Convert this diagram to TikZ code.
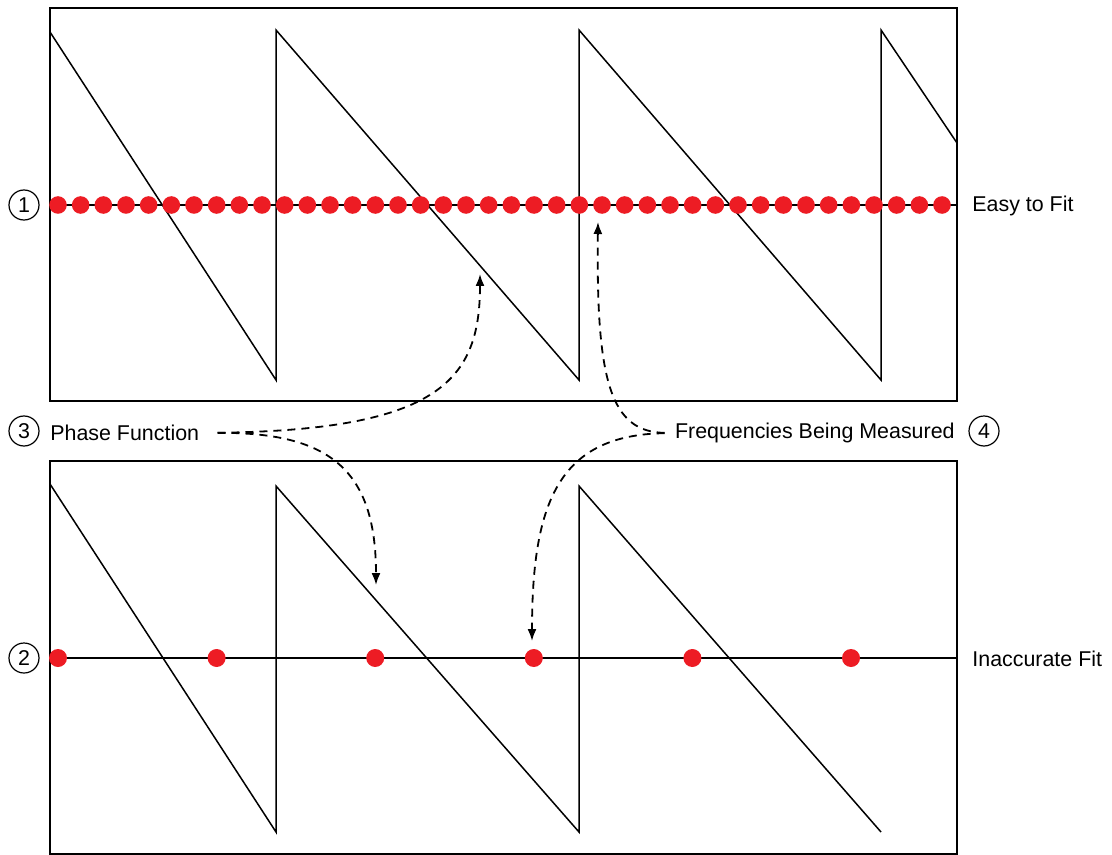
\documentclass[tikz,border=0pt]{standalone}
\usepackage{fontspec}
\setmainfont{Liberation Sans}
\usetikzlibrary{arrows.meta}
\definecolor{dotred}{RGB}{237,28,36}
\tikzset{
  frame/.style={line width=1pt},
  saw/.style={line width=0.75pt},
  sample/.style={fill=dotred},
  num/.style={circle,draw,line width=0.6pt,minimum size=15pt,inner sep=0pt},
  lbl/.style={anchor=west,inner sep=0pt},
  hint/.style={dash pattern=on 4pt off 3pt,line width=0.9pt,-{Latex[length=6pt,width=4.5pt]}}
}
\begin{document}
\begin{tikzpicture}[x=0.5pt,y=-0.5pt,every node/.style={font=\fontsize{10.7}{13}\selectfont}]
    \useasboundingbox (0,0) rectangle (1112,855);

    % Riquadri
    \draw[frame] (50,8) rectangle (957,401);
    \draw[frame] (50,461) rectangle (957,854);

    % Dente di sega sopra
    \draw[saw] (50,32) -- (276,380) -- (276,30) -- (579,380) -- (579,30)
        -- (881,380) -- (881,30) -- (957,143);

    % Dente di sega sotto
    \draw[saw] (50,484) -- (276,832) -- (276,486) -- (579,832) -- (579,486)
        -- (881,832);

    % Campionamento fitto
    \draw[saw] (50,205) -- (957,205);
    \foreach \i in {0,...,39}
        \fill[sample] (58+\i*22.667,205) circle (4.4pt);

    % Campionamento rado
    \draw[saw] (50,658) -- (957,658);
    \foreach \i in {0,...,5}
        \fill[sample] (58+\i*158.6,658) circle (4.5pt);

    % Etichette
    \node[num] (n1) at (24,205) {1};
    \node[num] (n2) at (24,658) {2};
    \node[num] (n3) at (24,431) {3};
    \node[num] (n4) at (984,431) {4};

    \node[lbl] (easy) at (972,206) {Easy to Fit};
    \node[lbl] (inacc) at (972,659) {Inaccurate Fit};
    \node[lbl] (phase) at (50,433) {Phase Function};
    \node[lbl, anchor=east] (freq) at (955,433) {Frequencies Being Measured};

    % Punte delle frecce
    \coordinate (phUp) at (480,274);
    \coordinate (phDown) at (376,585);
    \coordinate (frUp) at (598,222);
    \coordinate (frDown) at (532,641);

    % Frecce tratteggiate
    \draw[hint, shorten <=9pt] (phase.east) .. controls (440,430) and (480,380) .. (phUp);
    \draw[hint, shorten <=9pt] (phase.east) .. controls (330,432) and (376,470) .. (phDown);
    \draw[hint, shorten <=5pt] (freq.west) .. controls (610,432) and (596,380) .. (frUp);
    \draw[hint, shorten <=5pt] (freq.west) .. controls (560,435) and (532,500) .. (frDown);

\end{tikzpicture}
\end{document}
